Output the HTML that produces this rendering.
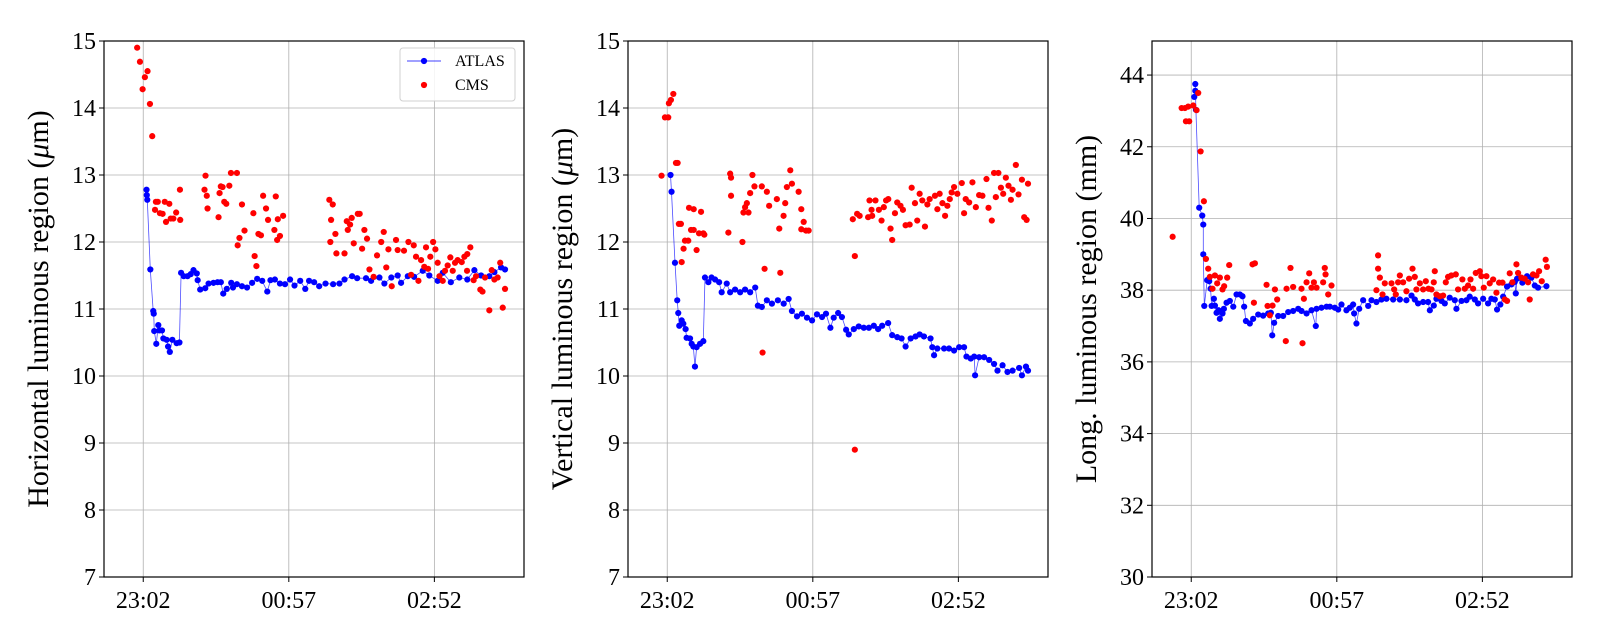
<!DOCTYPE html>
<html><head><meta charset="utf-8"><style>
html,body{margin:0;padding:0;background:#fff;}
svg{display:block;font-family:"Liberation Serif",serif;}
</style></head><body>
<svg id="chart" width="1600" height="640" viewBox="0 0 1600 640" xmlns="http://www.w3.org/2000/svg"></svg>
<script>
// ---- Data (t = minutes after 23:02) ----
const xTickLabels = ["23:02","00:57","02:52"];
const xTickValues = [0,115,230];
const hTicks = [7,8,9,10,11,12,13,14,15];
const vTicks = [7,8,9,10,11,12,13,14,15];
const lTicks = [30,32,34,36,38,40,42,44];

const hAtlasT = [2.6,2.8,3.2,5.6,7.9,8.3,8.7,10.3,11.9,12.7,14.8,15.9,18.5,19.6,21,23,26.4,28.6,29.9,32,35,37.5,39.7,42.3,43,45,49,51.6,55.5,58.7,61.3,63.2,66,69.5,70.9,74,78,82,86,90,94,98,100.5,104,108,112,116,119.5,124,128,131,135,139,144,150,155,159,165,169,176,180,186.6,190.5,196,201,203.7,209,214,220.8,226,232.6,236.6,243,249.7,256,261.6,266.9,273.4,277.4,282.7,285.8];
const hAtlasV = [12.78,12.7,12.63,11.59,10.97,10.93,10.67,10.48,10.76,10.68,10.68,10.56,10.54,10.44,10.36,10.54,10.49,10.5,11.54,11.49,11.49,11.52,11.58,11.53,11.43,11.29,11.31,11.38,11.39,11.4,11.4,11.23,11.3,11.39,11.32,11.37,11.34,11.32,11.39,11.45,11.42,11.26,11.43,11.44,11.38,11.37,11.44,11.35,11.42,11.3,11.42,11.4,11.34,11.38,11.37,11.38,11.44,11.49,11.46,11.46,11.42,11.47,11.38,11.47,11.5,11.39,11.49,11.48,11.57,11.5,11.42,11.54,11.4,11.47,11.44,11.58,11.5,11.49,11.55,11.62,11.59];
const hCmsT = [-4.8,-2.6,-0.5,1.3,3.4,5.3,7.1,10,11.5,9.3,13.2,15.3,17,18,20.6,21.7,23.8,26,29,29.2,48.4,49.2,50.2,50.8,59.5,60.3,61.3,62.7,64,65.6,68,69.3,74,74.6,76,78,80,87,88,89.4,91,93,94.7,97,98.6,103.6,104.7,105.8,106.3,108,110.5,147,149.7,148.4,147.8,151.8,152.6,159,160.8,161.6,163.4,164.7,166.3,169.5,171,172.9,174.7,176.8,178.7,182,184.7,188,190,192,193.7,196.3,199.7,201,206,209.5,211.6,213.7,215.5,217.4,219.5,222,223.4,225,226.8,229,230.8,232.6,234,236.6,238.4,240.5,242.6,244.5,246.3,248.4,251.6,253.7,256,258.4,255.8,261,262.9,266.3,268,270,273.4,275.3,277.4,280,282,284,285.8];
const hCmsV = [14.9,14.69,14.28,14.46,14.55,14.06,13.58,12.6,12.6,12.48,12.43,12.42,12.6,12.3,12.57,12.35,12.35,12.44,12.78,12.33,12.78,12.99,12.69,12.5,12.37,12.73,12.83,12.82,12.6,12.57,12.84,13.03,13.03,11.95,12.06,12.56,12.17,12.43,11.79,11.64,12.12,12.1,12.69,12.5,12.33,12.18,12.68,12.03,12.34,12.09,12.39,12.63,12.56,12.33,12.0,12.12,11.83,11.83,12.31,12.18,12.26,12.36,11.98,12.42,12.42,11.9,12.18,12.05,11.59,11.48,11.8,12.0,12.15,11.62,11.89,11.34,12.03,11.88,11.87,12.0,11.51,11.95,11.78,11.42,11.73,11.63,11.92,11.6,11.78,12.0,11.89,11.69,11.49,11.42,11.57,11.65,11.77,11.57,11.69,11.73,11.7,11.78,11.82,11.92,11.57,11.43,11.49,11.29,11.26,11.47,10.98,11.58,11.44,11.47,11.69,11.02,11.3];

const vAtlasT = [2.6,3.4,6.1,7.9,8.7,9.5,11.4,12.7,14.5,15.3,18,19.3,20.6,21.9,23.2,25.9,28.5,29.8,32.5,35,37.8,41,43,47,49.7,53.6,57.6,61.5,65.5,69.5,71.6,74.7,78.7,82.7,87.4,92,95.9,98.5,102.5,106.4,110.4,114.4,118.3,122.3,125.4,128.9,131.5,135,138,141.3,143.4,147.4,151.3,155.3,159.3,163.2,166.6,169.8,174.5,177.7,181.7,185.1,188.3,192.3,196.2,199.4,202.8,208,209.4,210.8,213.4,218.7,222.6,226.6,230.6,234.5,236.4,239.8,242.5,243.2,246.4,250.3,254.3,258.2,260.9,264.9,268.8,272.8,278,280.2,283.4,285];
const vAtlasV = [13.0,12.75,11.69,11.13,10.94,10.75,10.83,10.78,10.7,10.57,10.56,10.48,10.44,10.14,10.43,10.48,10.52,11.47,11.4,11.47,11.44,11.4,11.25,11.38,11.25,11.29,11.25,11.29,11.25,11.32,11.05,11.03,11.13,11.08,11.13,11.08,11.15,10.97,10.89,10.93,10.87,10.83,10.92,10.88,10.93,10.72,10.87,10.94,10.88,10.69,10.62,10.7,10.74,10.72,10.72,10.75,10.7,10.75,10.79,10.61,10.58,10.56,10.44,10.56,10.59,10.62,10.59,10.56,10.43,10.31,10.41,10.41,10.41,10.38,10.43,10.43,10.29,10.26,10.29,10.01,10.28,10.28,10.24,10.18,10.08,10.16,10.06,10.08,10.12,10.01,10.14,10.08];
const vCmsT = [-4.5,-1.8,0.8,1.3,2.9,4.8,6.9,8.2,9.2,10.8,11.4,12.9,14,16.6,17.2,18.8,20.9,20.9,23.2,25.1,26.7,28.5,29.3,48.3,49.7,50.4,50.4,59.4,60.2,61.5,62.9,64.2,65.5,67.3,68.9,74.7,75.3,76.9,78.7,80.5,86.6,88.5,89.3,91.9,93.2,94.5,97.2,98.5,103.8,105.9,105.9,107.8,109.6,111.7,146.6,148.2,148.2,150,152,158.7,159.8,161.9,161.4,164.5,167.2,169.3,171.1,172.9,174.6,176.4,177.7,179.9,181.7,184.3,186.2,188.3,191.5,193.1,195.7,197.5,199.4,201.5,203.6,205.5,207.3,211.5,213.4,215.2,217.4,219.5,221.3,223.2,224.7,226.6,229.2,232.7,234.5,235.8,238.5,241.1,243.8,246.4,249,252.2,253.8,256.4,258.2,261.6,259.6,263.6,265.4,267.5,269.6,271.5,272.8,275.4,277.5,280.2,282,283.9,285];
const vCmsV = [12.99,13.86,13.86,14.07,14.12,14.21,13.18,13.18,12.27,12.27,11.7,11.9,12.02,12.02,12.51,12.18,12.18,12.49,11.88,12.13,12.45,12.13,12.11,12.14,13.02,12.96,12.69,12.0,12.44,12.52,12.58,12.44,12.73,13.0,12.83,12.83,10.35,11.6,12.75,12.54,12.64,12.2,11.54,12.39,12.58,12.82,13.07,12.87,12.75,12.49,12.19,12.3,12.17,12.17,12.34,11.79,8.9,12.42,12.39,12.37,12.62,12.39,12.48,12.62,12.48,12.32,12.52,12.62,12.64,12.2,12.03,12.43,12.59,12.54,12.48,12.25,12.26,12.81,12.58,12.32,12.72,12.62,12.23,12.56,12.64,12.69,12.49,12.72,12.58,12.39,12.54,12.64,12.74,12.82,12.72,12.88,12.43,12.64,12.59,12.89,12.52,12.7,12.69,12.94,12.51,12.32,13.03,13.03,12.67,12.81,12.72,12.96,12.84,12.63,12.78,13.15,12.71,12.93,12.37,12.33,12.87];

const lAtlasT = [2.4,3.2,3.2,3.7,6.3,8.7,9.5,9.5,10.3,12.6,14.2,15.3,16.1,17.9,18.7,20,21.6,22.6,24.7,25.8,27.9,30.5,33.2,35.8,38.4,40.5,41.8,43.2,46.3,48.9,52.9,56.8,60.8,62.9,64,65.5,68.7,72.6,76.6,80.5,84.5,87.1,91.1,95,98.4,99,102.9,106.9,109.5,113.4,116.1,118.7,122.6,125.3,127.9,128.7,130.5,132.7,135.8,139.8,142.4,146.3,150.3,154.2,159.5,164.8,170,174,176.6,179.2,183.2,187.1,188.5,191.6,193.7,197.7,200.3,204.2,208.2,209.5,213.5,217.4,220,224,226.6,230.6,234.5,237.1,239.8,241.6,244.2,246.4,249.5,252.9,255.6,256.4,257.4,261.6,265.3,268.7,271.4,274,280.6];
const lAtlasV = [43.39,43.56,43.75,43.03,40.3,40.08,39.83,39.0,37.56,38.28,38.25,38.04,37.56,37.76,37.57,37.37,37.44,37.2,37.35,37.48,37.65,37.7,37.54,37.88,37.88,37.83,37.54,37.14,37.07,37.2,37.32,37.29,37.35,37.37,36.74,37.09,37.28,37.28,37.39,37.42,37.48,37.42,37.35,37.44,37.0,37.48,37.51,37.54,37.54,37.51,37.46,37.6,37.44,37.51,37.6,37.35,37.07,37.48,37.72,37.56,37.72,37.67,37.74,37.76,37.74,37.74,37.72,37.85,37.74,37.63,37.67,37.67,37.44,37.57,37.76,37.7,37.63,37.79,37.72,37.48,37.7,37.72,37.82,37.74,37.63,37.76,37.63,37.76,37.74,37.46,37.6,37.82,38.1,38.16,38.23,37.91,38.32,38.21,38.39,38.35,38.13,38.07,38.11];
const lCmsT = [-14.7,-7.6,-5,-4.2,-1.6,-2.4,1.6,4.2,5.5,7.4,10,11.6,13.4,14.7,16.8,18.7,20.5,22.6,24.7,26,28.4,30,48.4,49.5,50.3,59.5,60.3,62.1,64.2,66.1,67.9,74.7,75.3,78.4,80.5,87.1,87.9,89,91.1,93.2,95,96.9,99,104.2,105.5,106.1,108.2,110.8,146.3,147.6,147.6,149,151.1,152.9,158.2,160.3,161.6,163.4,164.8,167.4,170,172.1,174.8,176.6,177.9,180.6,183.2,185.3,187.4,189.8,191.6,192.4,193.7,196.4,199,201.1,202.9,205.5,209,210.8,214.2,216.1,218.7,220.6,222.7,224.8,228,229.2,231.1,233.2,235.8,238.5,241.1,243.2,245.9,247.7,249.5,251.6,253.7,256.9,258.2,260.8,263.4,266.1,267.4,270,272.7,274.8,276.9,280,281];
const lCmsV = [39.49,43.08,43.08,42.71,42.71,43.12,43.15,43.02,43.5,41.87,40.48,38.87,38.6,38.37,38.04,38.41,38.19,38.35,38.02,38.11,38.35,38.7,38.72,37.65,38.75,38.15,37.56,37.3,37.57,38.02,37.74,36.58,38.04,38.62,38.09,38.04,36.52,37.76,38.22,38.47,38.07,38.22,38.07,38.22,38.62,38.44,37.88,38.13,38.0,38.97,38.6,38.35,37.88,38.19,38.19,38.02,37.88,38.22,38.41,38.22,37.97,38.32,38.6,38.37,38.02,38.19,38.02,38.25,38.04,38.02,38.22,38.53,37.88,37.83,37.85,38.22,38.37,38.41,38.44,38.02,38.3,38.04,38.13,38.3,38.04,38.48,38.53,38.39,38.07,38.39,38.19,38.3,37.93,38.21,38.21,37.74,37.7,38.47,38.22,38.72,38.48,38.35,38.32,38.22,37.74,38.44,38.41,38.53,38.25,38.85,38.65];

// ---- Rendering ----
const NS = "http://www.w3.org/2000/svg";
const svg = document.getElementById("chart");
function mk(tag, attrs, parent){const e=document.createElementNS(NS,tag);for(const k in attrs)e.setAttribute(k,attrs[k]);(parent||svg).appendChild(e);return e;}

const TOP=41, BOT=577, W=420, TMIN=-31, TMAX=300.8, R=3.1;
const panels = [
  {key:"horizontal",left:104,ymin:7,ymax:15,ticks:hTicks,at:hAtlasT,av:hAtlasV,ct:hCmsT,cv:hCmsV,title:"Horizontal luminous region (",unit:"μ",unit2:"m)",tx:48,legend:true},
  {key:"vertical",left:628,ymin:7,ymax:15,ticks:vTicks,at:vAtlasT,av:vAtlasV,ct:vCmsT,cv:vCmsV,title:"Vertical luminous region (",unit:"μ",unit2:"m)",tx:572},
  {key:"longitudinal",left:1152,ymin:30,ymax:44.95,ticks:lTicks,at:lAtlasT,av:lAtlasV,ct:lCmsT,cv:lCmsV,title:"Long. luminous region (mm)",tx:1096}
];

panels.forEach(p=>{
  const g = mk("g",{});
  
  
  const xs = t => p.left + (t-TMIN)/(TMAX-TMIN)*W;
  const ys = v => BOT - (v-p.ymin)/(p.ymax-p.ymin)*(BOT-TOP);
  xTickValues.forEach((tv,i)=>{
    const x=xs(tv);
    const gl=mk("line",{x1:x,x2:x,y1:TOP,y2:BOT,stroke:"#b0b0b0","stroke-width":0.8},g);
    
    
    mk("line",{x1:x,x2:x,y1:BOT,y2:BOT+5,stroke:"#000","stroke-width":1},g);
    const tl=mk("text",{x:x,y:BOT+31,"text-anchor":"middle","font-size":24,fill:"#000"},g);
    tl.textContent=xTickLabels[i];
    
    
  });
  p.ticks.forEach(tv=>{
    const y=ys(tv);
    const gl=mk("line",{x1:p.left,x2:p.left+W,y1:y,y2:y,stroke:"#b0b0b0","stroke-width":0.8},g);
    
    
    mk("line",{x1:p.left-5,x2:p.left,y1:y,y2:y,stroke:"#000","stroke-width":1},g);
    const tl=mk("text",{x:p.left-8,y:y+8,"text-anchor":"end","font-size":24,fill:"#000"},g);
    tl.textContent=String(tv);
    
    
  });
  const pts = p.at.map((t,i)=>xs(t).toFixed(1)+","+ys(p.av[i]).toFixed(1)).join(" ");
  const line=mk("polyline",{points:pts,fill:"none",stroke:"#0000ff","stroke-width":0.8,"stroke-opacity":0.7},g);
  
  
  p.at.forEach((t,i)=>{
    const c=mk("circle",{cx:xs(t),cy:ys(p.av[i]),r:R,fill:"#0000ff"},g);
    
    
  });
  p.ct.forEach((t,i)=>{
    const c=mk("circle",{cx:xs(t),cy:ys(p.cv[i]),r:R,fill:"#ff0000"},g);
    
    
  });
  const fr=mk("rect",{x:p.left,y:TOP,width:W,height:BOT-TOP,fill:"none",stroke:"#000","stroke-width":1.2},g);
  
  
  const cy=(TOP+BOT)/2;
  const tt=mk("text",{x:p.tx,y:cy,"text-anchor":"middle","font-size":30,fill:"#000",transform:"rotate(-90 "+p.tx+" "+cy+")"},g);
  
  
  if(p.unit){
    const a=mk("tspan",{},tt);a.textContent=p.title;
    const b=mk("tspan",{"font-style":"italic"},tt);b.textContent=p.unit;
    const c=mk("tspan",{},tt);c.textContent=p.unit2;
  } else tt.textContent=p.title;
  if(p.legend){
    const lg=mk("g",{},g);
    
    
    mk("rect",{x:400,y:48,width:115,height:53,rx:3,fill:"#fff","fill-opacity":0.85,stroke:"#d0d0d0","stroke-width":1},lg);
    mk("line",{x1:407,x2:441,y1:61,y2:61,stroke:"#0000ff","stroke-width":0.8},lg);
    mk("circle",{cx:424,cy:61,r:R,fill:"#0000ff"},lg);
    const t1=mk("text",{x:455,y:66,"font-size":16,fill:"#000"},lg);t1.textContent="ATLAS";
    
    
    mk("circle",{cx:424,cy:85,r:R,fill:"#ff0000"},lg);
    const t2=mk("text",{x:455,y:90,"font-size":16,fill:"#000"},lg);t2.textContent="CMS";
    
    
  }
});
</script>
</body></html>
